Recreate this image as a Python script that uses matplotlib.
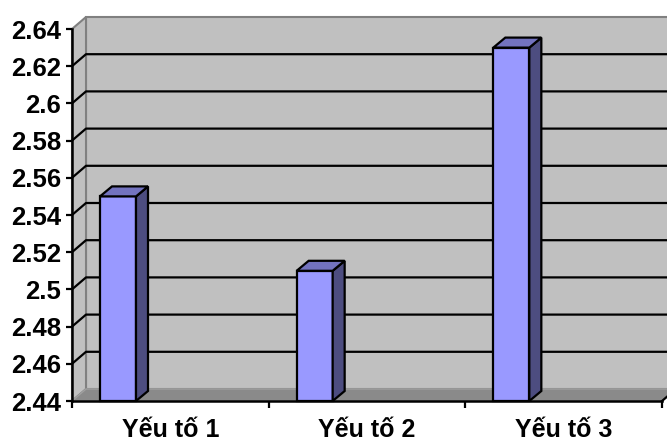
import matplotlib.pyplot as plt
from matplotlib.ticker import FixedLocator, NullFormatter

plt.rcParams['font.family'] = ['Liberation Sans', 'DejaVu Sans']

categories = ['Yếu tố 1', 'Yếu tố 2', 'Yếu tố 3']
values = [2.55, 2.51, 2.63]
y_ticks = [2.44, 2.46, 2.48, 2.5, 2.52, 2.54, 2.56, 2.58, 2.6, 2.62, 2.64]
y_labels = ['2.44', '2.46', '2.48', '2.5', '2.52', '2.54', '2.56', '2.58', '2.6', '2.62', '2.64']

y_min, y_max = 2.44, 2.64

fig = plt.figure(figsize=(6.67, 4.44), dpi=100)
# axes box = front face of the 3d plot area (pixels 72..662 x 29..401)
ax = fig.add_axes([72 / 667, 43 / 444, 590 / 667, 372 / 444])
ax.set_xlim(0, 3)
ax.set_ylim(y_min, y_max)

# pixel -> data helpers
px_x = 3 / 590
px_y = (y_max - y_min) / 372

# wall depth and bar depth offsets
wdx, wdy = 14 * px_x, 12 * px_y
bdx, bdy = 12 * px_x, 10 * px_y
bar_off = 28 * px_x
bar_w = 36 * px_x

wall_col = '#c0c0c0'
edge_gray = '#808080'

# back wall
ax.fill([wdx, 3 + wdx, 3 + wdx, wdx], [y_min + wdy, y_min + wdy, y_max + wdy, y_max + wdy],
        facecolor=wall_col, edgecolor=edge_gray, lw=1.5, clip_on=False, zorder=1)
# left side wall
ax.fill([0, wdx, wdx, 0], [y_min, y_min + wdy, y_max + wdy, y_max],
        facecolor=wall_col, edgecolor=edge_gray, lw=1.5, clip_on=False, zorder=1)
# floor
ax.fill([0, 3, 3 + wdx, wdx], [y_min, y_min, y_min + wdy, y_min + wdy],
        facecolor='#8a8a8a', edgecolor='#a0a0a0', lw=1.0, clip_on=False, zorder=1)

# gridlines on back wall and side wall
for v in y_ticks[1:-1]:
    ax.plot([0, wdx, 3 + wdx], [v, v + wdy, v + wdy], color='black', lw=1.6,
            clip_on=False, zorder=2, solid_capstyle='butt')
ax.plot([3, 3 + wdx], [y_min, y_min + wdy], color='black', lw=1.6, clip_on=False, zorder=2)

# bars
for i, val in enumerate(values):
    x0 = i + bar_off
    x1 = x0 + bar_w
    ax.fill([x0, x1, x1, x0], [y_min, y_min, val, val], facecolor='#9999ff',
            edgecolor='black', lw=1.6, zorder=4, clip_on=False)
    ax.fill([x1, x1 + bdx, x1 + bdx, x1], [y_min, y_min + bdy, val + bdy, val],
            facecolor='#4d4d80', edgecolor='black', lw=1.6, zorder=4, clip_on=False)
    ax.fill([x0, x1, x1 + bdx, x0 + bdx], [val, val, val + bdy, val + bdy],
            facecolor='#7373bf', edgecolor='black', lw=1.6, zorder=4, clip_on=False)

ax.set_facecolor('none')
for side in ['top', 'right']:
    ax.spines[side].set_visible(False)
for side in ['left', 'bottom']:
    ax.spines[side].set_linewidth(1.8)
    ax.spines[side].set_color('black')
    ax.spines[side].set_zorder(5)

ax.set_yticks(y_ticks)
ax.set_yticklabels(y_labels, fontsize=18.5, fontweight='bold')
ax.tick_params(axis='y', length=4, width=1.6, pad=4)

ax.xaxis.set_major_locator(FixedLocator([0, 1, 2, 3]))
ax.xaxis.set_major_formatter(NullFormatter())
ax.set_xticks([0.5, 1.5, 2.5], minor=True)
ax.set_xticklabels(categories, minor=True, fontsize=18, fontweight='bold')
ax.tick_params(axis='x', which='major', length=5, width=1.6)
ax.tick_params(axis='x', which='minor', length=0, pad=12)

fig.savefig('out.png', dpi=100)
